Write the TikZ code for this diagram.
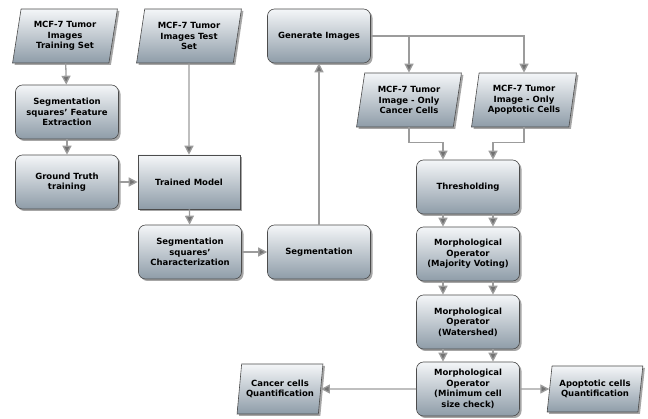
\documentclass[tikz,border=0pt]{standalone}
\usepackage{fontspec}
\setmainfont{DejaVu Sans}
\usetikzlibrary{shapes.geometric,shadows,arrows.meta}
\definecolor{boxtop}{HTML}{F4F6F8}
\definecolor{boxbot}{HTML}{8E9CA8}
\definecolor{linegray}{HTML}{9C9C9C}
\definecolor{tipgray}{HTML}{727272}
\tikzstyle{base}=[draw=black!70,line width=0.6pt,top color=boxtop,bottom color=boxbot,
    drop shadow={shadow xshift=2pt,shadow yshift=-2pt,opacity=0.7},
    font=\bfseries\fontsize{8.5}{10.5}\selectfont,align=center,inner sep=2pt]
\tikzstyle{proc}=[base,rectangle,rounded corners=7pt,minimum width=103pt,minimum height=54pt]
\tikzstyle{model}=[base,rectangle,minimum width=102pt,minimum height=54pt]
\tikzstyle{data}=[base,trapezium,trapezium left angle=79,trapezium right angle=101,
    trapezium stretches=true,minimum width=105pt,minimum height=54pt]
\tikzstyle{arr}=[draw=linegray,line width=1.3pt,-{Triangle[length=9pt,width=9pt,fill=tipgray]}]

\begin{document}
\begin{tikzpicture}[x=1pt,y=-1pt]
    \useasboundingbox (0,0) rectangle (648,419);
    % training branch
    \node[data] (train) at (65,36) {MCF-7 Tumor\\Images\\Training Set};
    \node[data] (test) at (189,36) {MCF-7 Tumor\\Images Test\\Set};
    \node[proc] (feat) at (67,112) {Segmentation\\squares' Feature\\Extraction};
    \node[proc] (gt) at (67,182) {Ground Truth\\training};
    \node[model] (trained) at (189,182) {Trained Model};
    \node[proc] (char) at (190,252) {Segmentation\\squares'\\Characterization};
    \node[proc] (seg) at (319,252) {Segmentation};
    \node[proc] (gen) at (319,36) {Generate Images};
    % image branch
    \node[data] (cimg) at (409,100) {MCF-7 Tumor\\Image - Only\\Cancer Cells};
    \node[data] (aimg) at (524,100) {MCF-7 Tumor\\Image - Only\\Apoptotic Cells};
    \node[proc] (thr) at (468,187) {Thresholding};
    \node[proc] (mv) at (468,254) {Morphological\\Operator\\(Majority Voting)};
    \node[proc] (ws) at (468,322) {Morphological\\Operator\\(Watershed)};
    \node[proc] (mc) at (468,389) {Morphological\\Operator\\(Minimum cell\\size check)};
    \node[data,minimum width=86pt,minimum height=50pt] (cq) at (280,389) {Cancer cells\\Quantification};
    \node[data,minimum width=96pt,minimum height=46pt] (aq) at (595,389) {Apoptotic cells\\Quantification};

    \draw[arr] (train) -- (feat);
    \draw[arr] (feat) -- (gt);
    \draw[arr] (gt) -- (trained);
    \draw[arr] (test) -- (trained);
    \draw[arr] (trained) -- (char);
    \draw[arr] (char) -- (seg);
    \draw[arr] (seg) -- (gen);
    \draw[arr] (gen.east) -| (cimg.north);
    \draw[arr] (gen.east) -| (aimg.north);
    \draw[arr] (cimg.south) -- ++(0,15) -| ([xshift=-25pt]thr.north);
    \draw[arr] (aimg.south) -- ++(0,15) -| ([xshift=25pt]thr.north);
    \foreach \a/\b in {thr/mv,mv/ws,ws/mc}{
        \draw[arr] ([xshift=-25pt]\a.south) -- ([xshift=-25pt]\b.north);
        \draw[arr] ([xshift=25pt]\a.south) -- ([xshift=25pt]\b.north);
    }
    \draw[arr] (mc) -- (cq);
    \draw[arr] (mc) -- (aq);
\end{tikzpicture}
\end{document}
